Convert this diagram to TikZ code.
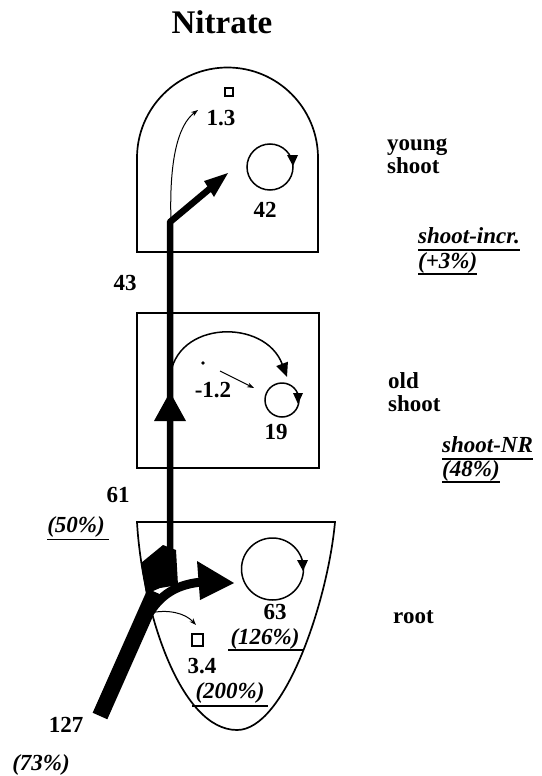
\documentclass[tikz,border=0pt]{standalone}
\usepackage{fontspec}
\setmainfont{Liberation Serif}
\usetikzlibrary{arrows.meta}
\begin{document}
\begin{tikzpicture}[x=1pt,y=-1pt,
  organ/.style={draw, line width=1.7pt},
  lbl/.style={font=\fontsize{23}{23}\selectfont\bfseries, inner sep=0pt},
  pct/.style={font=\fontsize{23}{23}\selectfont\bfseries\itshape, inner sep=0pt},
  ulline/.style={line width=1.4pt},
  thinarrow/.style={line width=1pt, -{Stealth[length=7pt,width=5pt]}},
  cyc/.style={line width=1.5pt},
  head/.style={fill=black},
  small/.style={line width=1.3pt},
]
\useasboundingbox (0,0) rectangle (541,776);

% title
\node[font=\fontsize{33}{33}\selectfont\bfseries, inner sep=0pt] (title) at (222,22) {Nitrate};

% organs
\draw[organ] (137,252) -- (137,158) arc[start angle=180, end angle=360, radius=90.5] -- (318,252) -- cycle;
\draw[organ] (137,313) rectangle (319,468);
\draw[organ] (137,522) -- (335,522) .. controls (328,600) and (285,730) .. (237,730)
  .. controls (180,730) and (142,610) .. (137,522) -- cycle;

% coordinates
\coordinate (rootbase) at (100,716);
\coordinate (rootfork) at (155,592);
\coordinate (stembot) at (170,585);
\coordinate (stembend) at (170,222);
\coordinate (youngend) at (213,186);

% main xylem flux
\draw[line width=16pt] (rootbase) -- (rootfork);
\fill (141,563) -- (163,545) -- (176,550) -- (178,585) -- (160,588) -- (146,594) -- cycle;
\draw[line width=6.5pt, line join=round] (stembot) -- (stembend) -- (youngend);
\fill (228,173) -- (204,181) -- (214,197) -- cycle;
\fill (170,392) -- (186,421) -- (154,421) -- cycle;

% root branch
\draw[line width=9pt] (150,612) .. controls (163,592) and (180,584) .. (202,582);
\fill (197,561) -- (234,583) -- (200,600) -- cycle;

% young shoot details
\draw[thinarrow] (171,222) .. controls (169,160) and (178,125) .. (198,110);
\draw[small] (225,88) rectangle (233,96);
\node[lbl] (v13) at (221,118) {1.3};
\draw[cyc] (270,167) circle[radius=23];
\fill (287,155) -- (298,155) -- (293,166) -- cycle;
\node[lbl] (v42) at (265,210) {42};

% old shoot details
\draw[cyc, -{Triangle[length=14pt,width=12pt]}] (170,378) .. controls (175,320) and (265,318) .. (287,377);
\fill (203,363) circle[radius=1.8];
\draw[thinarrow] (220,371) -- (254,388);
\node[lbl] (vm12) at (213,390) {-1.2};
\draw[cyc] (282,400) circle[radius=17];
\fill (293,393) -- (303,393) -- (298,404) -- cycle;
\node[lbl] (v19) at (276,432) {19};

% root details
\draw[thinarrow] (150,613) .. controls (168,609) and (185,613) .. (196,625);
\draw[small] (192,634) rectangle (203,646);
\node[lbl] (v34) at (202,666) {3.4};
\node[pct] (p200) at (230,693) {(200\%)};
\draw[ulline] (192,706) -- (268,706);
\draw[cyc] (272.5,569) circle[radius=31];
\fill (297,560) -- (308,560) -- (303,571) -- cycle;
\node[lbl] (v63) at (275,612) {63};
\node[pct] (p126) at (265,639) {(126\%)};
\draw[ulline] (228,650) -- (303,650);

% flux labels
\node[lbl] (v43) at (125,283) {43};
\node[lbl] (v61) at (118,495) {61};
\node[pct] (p50) at (76,527) {(50\%)};
\draw[ulline] (p50.base west) ++(0,7) -- ++(62,0);
\node[lbl] (v127) at (66,725) {127};
\node[pct] (p73) at (41,765) {(73\%)};
\draw[ulline] (p73.base west) ++(0,7) -- ++(62,0);

% organ labels
\node[lbl, anchor=base west] (ys1) at (387,150) {young};
\node[lbl, anchor=base west] (ys2) at (387,173) {shoot};
\node[pct, anchor=base west] (si) at (418,243) {shoot-incr.};
\draw[ulline] ([yshift=-7pt]si.base west) -- ([yshift=-7pt]si.base east);
\node[pct, anchor=base west] (si2) at (418,268) {(+3\%)};
\draw[ulline] ([yshift=-6pt]si2.base west) -- ([yshift=-6pt]si2.base east);
\node[lbl, anchor=base west] (os1) at (388,388) {old};
\node[lbl, anchor=base west] (os2) at (388,411) {shoot};
\node[pct, anchor=base west] (snr) at (442,452) {shoot-NR};
\draw[ulline] ([yshift=-7pt]snr.base west) -- ([yshift=-7pt]snr.base east);
\node[pct, anchor=base west] (snr2) at (442,476) {(48\%)};
\draw[ulline] ([yshift=-6pt]snr2.base west) -- ([yshift=-6pt]snr2.base east);
\node[lbl, anchor=base west] (rt) at (393,623) {root};
\end{tikzpicture}
\end{document}
